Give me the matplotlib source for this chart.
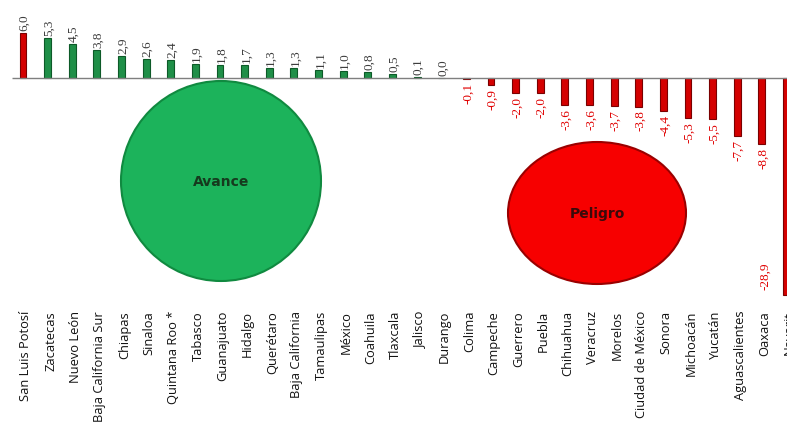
import matplotlib.pyplot as plt
from matplotlib.patches import Ellipse
import matplotlib.transforms as mtransforms

states = ["San Luis Potosí", "Zacatecas", "Nuevo León", "Baja California Sur",
          "Chiapas", "Sinaloa", "Quintana Roo *", "Tabasco", "Guanajuato",
          "Hidalgo", "Querétaro", "Baja California", "Tamaulipas", "México",
          "Coahuila", "Tlaxcala", "Jalisco", "Durango", "Colima", "Campeche",
          "Guerrero", "Puebla", "Chihuahua", "Veracruz", "Morelos",
          "Ciudad de México", "Sonora", "Michoacán", "Yucatán",
          "Aguascalientes", "Oaxaca", "Nayarit"]
values = [6.0, 5.3, 4.5, 3.8, 2.9, 2.6, 2.4, 1.9, 1.8, 1.7, 1.3, 1.3, 1.1, 1.0,
          0.8, 0.5, 0.1, 0.0, -0.1, -0.9, -2.0, -2.0, -3.6, -3.6, -3.7, -3.8,
          -4.4, -5.3, -5.5, -7.7, -8.8, -28.9]

W, H = 787, 427
fig = plt.figure(figsize=(W / 100, H / 100), dpi=100)

# axes placed in pixels: value 6.0 at y=34, -28.9 at y=296
ax = fig.add_axes([0, (H - 296) / H, 1, (296 - 34) / H])
ax.set_ylim(-28.9, 6.0)
ax.set_xlim(-0.934, 31.02)
ax.axis("off")

x = list(range(len(states)))
colors = []
edges = []
for i, v in enumerate(values):
    if i == 0 or v < 0:
        colors.append("#d40000")
        edges.append("#7a0000")
    else:
        colors.append("#1f8f48")
        edges.append("#0d5a28")

ax.bar(x, values, width=0.28, color=colors, edgecolor=edges, linewidth=0.8,
       zorder=2, clip_on=False)
ax.hlines(0, -0.45, 31.02, color="#7f7f7f", linewidth=1.0, zorder=3)

px = 262 / 34.9  # pixels per unit
for i, v in enumerate(values):
    lab = f"{v:.1f}".replace(".", ",")
    if v >= 0:
        ax.text(i + 0.06, v + 3 / px, lab, rotation=90, ha="center", va="bottom",
                fontsize=9.5, color="#3c3c3c", family="Liberation Serif")
    elif i == len(values) - 1:
        ax.text(i - 0.88, v + 6 / px, lab, rotation=90, ha="center", va="bottom",
                fontsize=9.5, color="#e00000", family="Liberation Serif")
    else:
        ax.text(i + 0.06, v - 3 / px, lab, rotation=90, ha="center", va="top",
                fontsize=9.5, color="#e00000", family="Liberation Serif")

trans = mtransforms.blended_transform_factory(ax.transData, ax.transAxes)
for i, s in enumerate(states):
    ax.text(i + 0.12, -15 / 262, s, rotation=90, ha="center", va="top",
            fontsize=9.3, color="#111111", family="Open Sans", transform=trans)

# ellipses in figure pixels
def add_blob(cx, cy, w, h, face, edge, label, tcolor):
    e = Ellipse((cx / W, 1 - cy / H), w / W, h / H, transform=fig.transFigure,
                facecolor=face, edgecolor=edge, linewidth=1.5, zorder=5)
    fig.patches.append(e)
    fig.text(cx / W, 1 - cy / H, label, ha="center", va="center", fontsize=10,
             fontweight="bold", color=tcolor, family="DejaVu Sans", zorder=6)

add_blob(221, 182, 200, 200, "#1cb35b", "#108a40", "Avance", "#163a1e")
add_blob(597, 214, 178, 142, "#f70000", "#9a0000", "Peligro", "#3a0a0a")

fig.savefig("out.png", dpi=100)
